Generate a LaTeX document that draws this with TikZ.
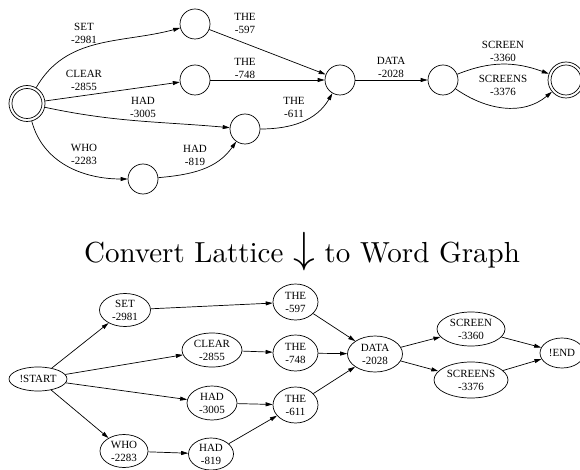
\documentclass[tikz,border=0pt]{standalone}
\usepackage{fontspec}
\newfontfamily\labelfont{Liberation Serif}
\usetikzlibrary{arrows.meta,shapes.geometric}
\begin{document}
\begin{tikzpicture}[x=1pt,y=-1pt,
  every path/.style={line width=0.7pt},
  arr/.style={-{Triangle[length=7pt,width=4pt]}},
  state/.style={circle,draw,minimum size=30pt,inner sep=0pt},
  bigstate/.style={circle,draw,minimum size=36pt,inner sep=0pt},
  innerstate/.style={circle,draw,minimum size=30pt,inner sep=0pt},
  lbl/.style={font=\labelfont\fontsize{11}{13}\selectfont,align=center,inner sep=0pt},
  ell/.style={ellipse,draw,inner sep=0pt,font=\labelfont\fontsize{11}{13}\selectfont,align=center},
]
\useasboundingbox (0,0) rectangle (580,470);
% ---------- top lattice ----------
\node[bigstate] (s) at (27,103.5) {};
\node[innerstate] (si) at (27,103.5) {};
\node[state] (a) at (195,24) {};
\node[state] (b) at (195,80) {};
\node[state] (c) at (245,129) {};
\node[state] (d) at (143,179) {};
\node[state] (e) at (340,80) {};
\node[state] (f) at (443,80) {};
\node[bigstate] (t) at (566,80) {};
\node[innerstate] (ti) at (566,80) {};

\draw[arr] (s) to[out=60,in=195] (a);
\draw[arr] (s) -- (b);
\draw[arr] (s) to[out=-12,in=175] (c);
\draw[arr] (s) to[out=-75,in=180] (d);
\draw[arr] (d) to[out=5,in=235] (c);
\draw[arr] (a) -- (e);
\draw[arr] (b) -- (e);
\draw[arr] (c) to[out=0,in=240] (e);
\draw[arr] (e) -- (f);
\draw[arr] (f) to[out=22,in=160] (t);
\draw[arr] (f) to[out=-35,in=-140] (t);

\node[lbl] (l1) at (84,33) {SET\\-2981};
\node[lbl] (l2) at (84,80) {CLEAR\\-2855};
\node[lbl] (l3) at (143,107) {HAD\\-3005};
\node[lbl] (l4) at (84,154) {WHO\\-2283};
\node[lbl] (l5) at (195,155) {HAD\\-819};
\node[lbl] (l6) at (245,23) {THE\\-597};
\node[lbl] (l7) at (245,68) {THE\\-748};
\node[lbl] (l8) at (294,107) {THE\\-611};
\node[lbl] (l9) at (391,67) {DATA\\-2028};
\node[lbl] (l10) at (503,51) {SCREEN\\-3360};
\node[lbl] (l11) at (503,85) {SCREENS\\-3376};

% ---------- title ----------
\node[scale=2.9,inner sep=0pt,anchor=base] (title) at (302,262) {Convert Lattice \scalebox{1.5}{$\downarrow$} to Word Graph};

% ---------- bottom word graph ----------
\node[ell,minimum width=58pt,minimum height=24pt] (start) at (38,379) {!START};
\node[ell,minimum width=51pt,minimum height=33pt] (set) at (125,310) {SET\\-2981};
\node[ell,minimum width=60pt,minimum height=34pt] (clear) at (212,350) {CLEAR\\-2855};
\node[ell,minimum width=50pt,minimum height=34pt] (had1) at (212,403) {HAD\\-3005};
\node[ell,minimum width=48pt,minimum height=33pt] (who) at (124,451) {WHO\\-2283};
\node[ell,minimum width=45pt,minimum height=32pt] (had2) at (211,454) {HAD\\-819};
\node[ell,minimum width=45pt,minimum height=36pt] (the1) at (295.5,302) {THE\\-597};
\node[ell,minimum width=45pt,minimum height=36pt] (the2) at (295.5,353) {THE\\-748};
\node[ell,minimum width=45pt,minimum height=36pt] (the3) at (295.5,405) {THE\\-611};
\node[ell,minimum width=55pt,minimum height=36pt] (data) at (375,354) {DATA\\-2028};
\node[ell,minimum width=68pt,minimum height=34pt] (scr1) at (471,329) {SCREEN\\-3360};
\node[ell,minimum width=74pt,minimum height=36pt] (scr2) at (471,380) {SCREENS\\-3376};
\node[ell,minimum width=44pt,minimum height=30pt] (end) at (562,353) {!END};

\draw[arr] (start) -- (set);
\draw[arr] (start) -- (clear);
\draw[arr] (start) -- (had1);
\draw[arr] (start) -- (who);
\draw[arr] (set) -- (the1);
\draw[arr] (clear) -- (the2);
\draw[arr] (had1) -- (the3);
\draw[arr] (who) -- (had2);
\draw[arr] (had2) -- (the3);
\draw[arr] (the1) -- (data);
\draw[arr] (the2) -- (data);
\draw[arr] (the3) -- (data);
\draw[arr] (data) -- (scr1);
\draw[arr] (data) -- (scr2);
\draw[arr] (scr1) -- (end);
\draw[arr] (scr2) -- (end);
\end{tikzpicture}
\end{document}
